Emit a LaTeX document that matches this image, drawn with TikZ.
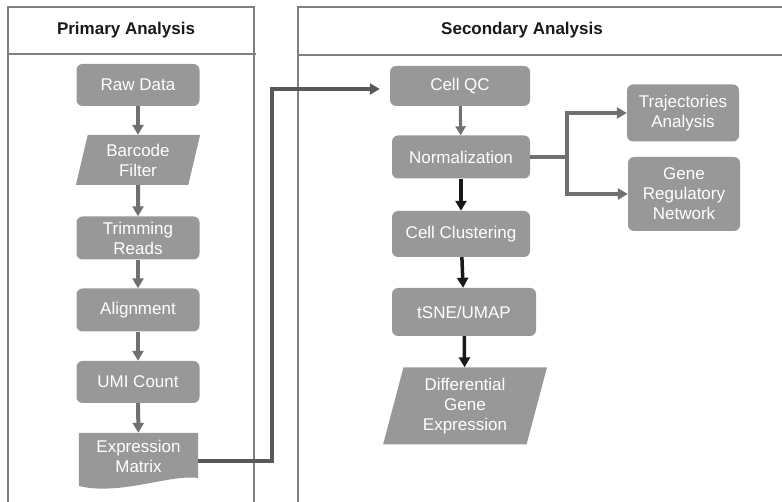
\documentclass[tikz,border=0pt]{standalone}
\usepackage{fontspec}
\setmainfont{Liberation Sans}
\usepackage{xcolor}
\usetikzlibrary{
    arrows.meta,
    positioning,
    shapes.geometric
}

\definecolor{boxgray}{RGB}{152,152,152}
\definecolor{arrowgray}{RGB}{112,112,112}
\definecolor{linkgray}{RGB}{88,88,88}
\definecolor{panelgray}{RGB}{128,128,128}

\begin{document}
\begin{tikzpicture}[
    x=1pt, y=-1pt,
    font=\fontsize{17}{20}\selectfont,
    box/.style={
        rectangle,
        rounded corners=6pt,
        fill=boxgray,
        text=white,
        align=center,
        inner sep=0pt
    },
    slantbox/.style={
        trapezium,
        trapezium stretches=true,
        fill=boxgray,
        text=white,
        align=center,
        inner sep=0pt
    },
    garrow/.style={
        -{Triangle[length=10pt,width=11pt]},
        line width=4pt,
        draw=arrowgray
    },
    thinarrow/.style={
        -{Triangle[length=9pt,width=10pt]},
        line width=3pt,
        draw=arrowgray
    },
    barrow/.style={
        -{Triangle[length=10pt,width=11pt]},
        line width=3.5pt,
        draw=black!90
    },
    link/.style={
        -{Triangle[length=10pt,width=11pt]},
        line width=4pt,
        draw=linkgray
    },
    panel/.style={
        draw=panelgray,
        line width=2.5pt
    },
    title/.style={
        font=\fontsize{17}{20}\selectfont\bfseries,
        text=black!90
    }
]

\clip (0,0) rectangle (782,502);

% =========================================================
% Panels
% =========================================================
\draw[panel] (8,7) rectangle (254,530);
\draw[panel] (8,54) -- (256,54);
\node[title] (primary) at (126,30) {Primary Analysis};

\draw[panel] (298,7) rectangle (820,530);
\draw[panel] (298,55) -- (820,55);
\node[title] (secondary) at (522,30) {Secondary Analysis};

% =========================================================
% Primary analysis
% =========================================================
\node[box, minimum width=123pt, minimum height=42pt] (raw) at (138,85)
{Raw Data};

\node[slantbox, trapezium left angle=77, trapezium right angle=103,
      minimum width=125pt, minimum height=50pt] (barcode) at (138,160)
{Barcode\\Filter};

\node[box, minimum width=123pt, minimum height=43pt] (trim) at (138,238)
{Trimming\\Reads};

\node[box, minimum width=123pt, minimum height=43pt] (align) at (138,310)
{Alignment};

\node[box, minimum width=123pt, minimum height=42pt] (umi) at (138,382)
{UMI Count};

\node[rectangle, inner sep=0pt, minimum width=119pt, minimum height=46pt,
      text=white, align=center] (expr) at (138.5,456) {};
\fill[boxgray] (expr.north west) -- (expr.north east) -- (198,478)
    .. controls (170,474) and (120,496) .. (79,486) -- cycle;
\node[text=white, align=center] (exprtext) at (expr) {Expression\\Matrix};

% =========================================================
% Secondary analysis
% =========================================================
\node[box, minimum width=140pt, minimum height=40pt] (cellqc) at (460,86)
{Cell QC};

\node[box, minimum width=138pt, minimum height=43pt] (norm) at (461,157)
{Normalization};

\node[box, minimum width=138pt, minimum height=46pt] (clust) at (461,234)
{Cell Clustering};

\node[box, minimum width=144pt, minimum height=48pt] (tsne) at (464,312)
{tSNE/UMAP};

\node[slantbox, trapezium left angle=76, trapezium right angle=104,
      minimum width=164pt, minimum height=77pt] (dge) at (465,406)
{Differential\\Gene\\Expression};

\node[box, minimum width=112pt, minimum height=57pt] (traj) at (683,113)
{Trajectories\\Analysis};

\node[box, minimum width=112pt, minimum height=74pt] (grn) at (684,194)
{Gene\\Regulatory\\Network};

\coordinate (split) at (567,157);
\coordinate (bend) at (272,461);

% =========================================================
% Arrows
% =========================================================
\draw[garrow] (raw) -- (barcode);
\draw[garrow] (barcode) -- (trim);
\draw[garrow] (trim) -- (align);
\draw[garrow] (align) -- (umi);
\draw[garrow] (umi) -- (expr);

\draw[link, shorten >=10pt] (expr.east |- bend) -- (bend) |- ([yshift=-3pt]cellqc.west);

\draw[thinarrow] (cellqc) -- (norm);
\draw[barrow] (norm) -- (clust);
\draw[barrow] (clust) -- (tsne);
\draw[barrow] (tsne) -- (dge);

\draw[garrow, -] (norm.east) -- (split);
\draw[garrow] (split) |- (traj.west);
\draw[garrow] (split) |- (grn.west);

\end{tikzpicture}
\end{document}
